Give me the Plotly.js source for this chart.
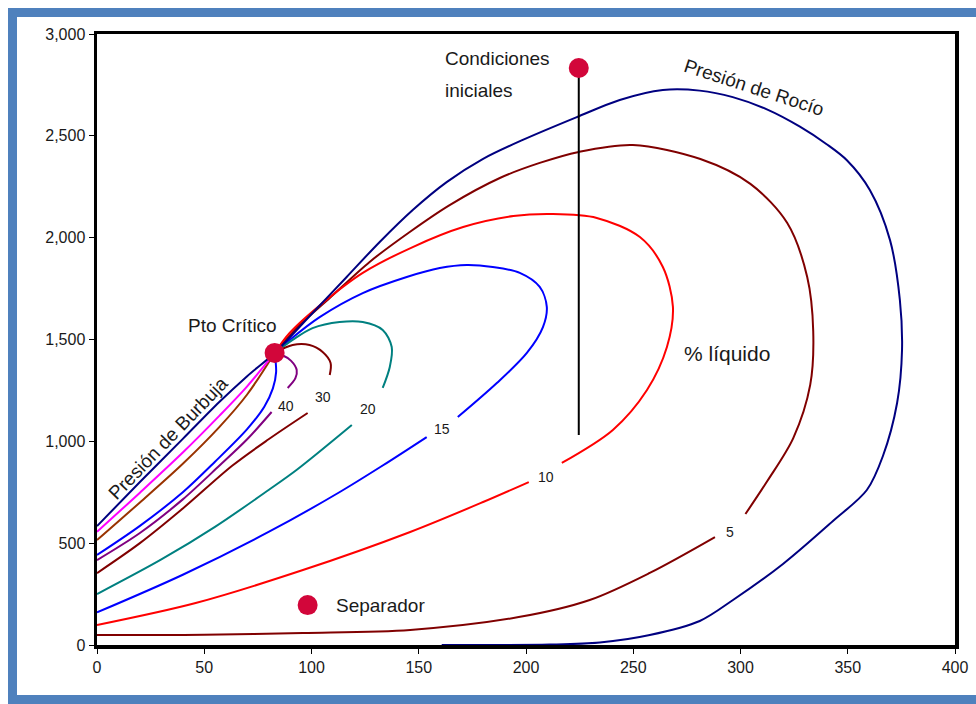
<!DOCTYPE html>
<html>
<head>
<meta charset="utf-8">
<script src="https://cdn.plot.ly/plotly-3.0.1.min.js"></script>
<style>
  html, body { margin: 0; padding: 0; background: #ffffff; }
  #chart { width: 976px; height: 704px; }
</style>
</head>
<body>
<div id="chart"></div>
<script>
// ---------------- DATA ----------------
// Envolvente: Presión de Burbuja + Presión de Rocío (T, P)
const envX = [0, 20, 40, 57, 70, 82.8, 100.5, 116.4, 131.8, 147.2, 163.0, 179.8, 198.5, 223.7, 243.7, 263.8, 281.0, 296.4, 312.3, 327.7, 340.0, 349.6, 360.3, 369.7, 374.3, 375.3, 373.0, 366.4, 358.9, 343.1, 319.8, 296.5, 281.0, 257.7, 234.4, 211.0, 160.7];
const envY = [584, 800, 1012, 1193, 1320, 1434, 1630, 1807, 1979, 2136, 2273, 2386, 2480, 2592, 2676, 2725, 2722, 2690, 2630, 2545, 2460, 2380, 2234, 1988, 1694, 1448, 1188, 928, 761, 609, 398, 221, 118, 49, 12, 2, 0];

// Líneas de calidad cercanas a la burbuja
const magX = [0, 20, 40, 57, 70, 82.8];
const magY = [556, 748, 945, 1125, 1270, 1434];
const sieX = [0, 20, 40, 57, 70, 82.8];
const sieY = [515, 700, 890, 1070, 1230, 1434];
const b50X = [0, 20, 40, 55, 70, 78, 82, 83.5, 82.8];
const b50Y = [442, 585, 750, 900, 1060, 1170, 1260, 1340, 1434];

// 40 %
const q40LoX = [0, 20, 40, 57, 70, 81.4];
const q40LoY = [417, 550, 715, 880, 1010, 1144];
const q40UpX = [88.9, 92.5, 93.1, 90.5, 86, 82.8];
const q40UpY = [1262, 1310, 1350, 1395, 1425, 1434];
// 30 %
const q30LoX = [0, 20, 40, 63, 80, 98.2];
const q30LoY = [353, 500, 670, 880, 1010, 1139];
const q30UpX = [108.5, 108.9, 105.2, 99.1, 91.2, 82.8];
const q30UpY = [1326, 1385, 1439, 1473, 1473, 1434];
// 20 %
const q20LoX = [0, 30, 55, 80, 93, 118.8];
const q20LoY = [250, 420, 580, 761, 859, 1080];
const q20UpX = [133.2, 136.5, 137.4, 133.2, 123.9, 113.1, 100.5, 91.2, 82.8];
const q20UpY = [1262, 1365, 1463, 1547, 1586, 1586, 1556, 1498, 1434];
// 15 %
const q15LoX = [0, 40, 80, 113, 133, 153.7];
const q15LoY = [160, 345, 555, 750, 880, 1021];
const q15UpX = [168.2, 186.4, 200.4, 207.9, 209.7, 206.4, 197.1, 184.5, 172.4, 159.8, 144.4, 123.9, 103.8, 89.8, 82.8];
const q15UpY = [1119, 1286, 1434, 1561, 1660, 1758, 1827, 1856, 1866, 1851, 1807, 1728, 1610, 1498, 1434];
// 10 %
const q10LoX = [0, 46, 96, 146, 180, 201.3];
const q10LoY = [98, 206, 368, 555, 702, 800];
const q10UpX = [216.7, 240.5, 256.4, 265.7, 268.5, 263.8, 253.1, 233.0, 212.5, 194.1, 170.7, 147.2, 123.9, 105.2, 89.8, 82.8];
const q10UpY = [894, 1056, 1252, 1463, 1660, 1856, 2003, 2097, 2116, 2106, 2052, 1954, 1827, 1679, 1532, 1434];
// 5 %
const q5LoX = [0, 50, 96, 146, 196.6, 229.7, 257.7, 288.1];
const q5LoY = [49, 50, 59, 74, 137, 221, 354, 530];
const q5UpX = [302.3, 312.5, 324.6, 332.5, 333.9, 331.1, 321.8, 304.6, 281.3, 249.8, 224.6, 206.4, 187.8, 164.4, 145.8, 127.1, 108.5, 94.5, 82.8];
const q5UpY = [643, 805, 1016, 1277, 1542, 1807, 2072, 2264, 2386, 2455, 2421, 2367, 2293, 2160, 2028, 1881, 1704, 1571, 1434];

// Trayectoria de agotamiento y puntos
const pathX = [224.6, 224.6];
const pathY = [2833, 1031];
const initX = [224.6], initY = [2833];
const sepX = [98.2], sepY = [196];
const critX = [82.8], critY = [1434];

// Etiquetas de calidad
const qLabels = ['40', '30', '20', '15', '10', '5'];
const qLabelX = [88.1, 105.2, 126.2, 160.7, 209.2, 295.0];
const qLabelY = [1173, 1218, 1159, 1061, 825, 555];

const xTicks = [0, 50, 100, 150, 200, 250, 300, 350, 400];
const yTicks = [0, 500, 1000, 1500, 2000, 2500, 3000];

// ---------------- CHART ----------------
const W = 976, H = 704, ML = 97, MR = 21, MT = 34, MB = 59;
const pw = W - ML - MR, ph = H - MT - MB;
const pxX = p => (p - ML) / pw;
const pxY = q => (H - MB - q) / ph;

const FONT = 'Liberation Sans, Arial, sans-serif';
const TXT = '#1a1a1a';

function line(x, y, color, w) {
  return { x: x, y: y, type: 'scatter', mode: 'lines', hoverinfo: 'skip',
           line: { color: color, width: w || 2, shape: 'spline', smoothing: 0.9 } };
}
function dot(x, y) {
  return { x: x, y: y, type: 'scatter', mode: 'markers', hoverinfo: 'skip', cliponaxis: false,
           marker: { color: '#D2063A', size: 20, line: { width: 0 } } };
}

const traces = [
  line(q5LoX, q5LoY, '#800000'), line(q5UpX, q5UpY, '#800000'),
  line(q10LoX, q10LoY, '#FF0000'), line(q10UpX, q10UpY, '#FF0000'),
  line(q15LoX, q15LoY, '#0000FF'), line(q15UpX, q15UpY, '#0000FF'),
  line(q20LoX, q20LoY, '#008080'), line(q20UpX, q20UpY, '#008080'),
  line(q30LoX, q30LoY, '#800000'), line(q30UpX, q30UpY, '#800000'),
  line(q40LoX, q40LoY, '#800080'), line(q40UpX, q40UpY, '#800080'),
  line(b50X, b50Y, '#0000FF'),
  line(sieX, sieY, '#993300'),
  line(magX, magY, '#FF00FF'),
  line(envX, envY, '#000080'),
  { x: pathX, y: pathY, type: 'scatter', mode: 'lines', hoverinfo: 'skip',
    line: { color: '#000000', width: 2 } },
  dot(initX, initY), dot(sepX, sepY), dot(critX, critY)
];

const annotations = [
  { x: 161.2, y: 2882, text: 'Condiciones', xanchor: 'left', yanchor: 'middle', showarrow: false,
    font: { family: FONT, size: 19, color: TXT } },
  { x: 161.2, y: 2725, text: 'iniciales', xanchor: 'left', yanchor: 'middle', showarrow: false,
    font: { family: FONT, size: 19, color: TXT } },
  { x: 63.2, y: 1571, text: 'Pto Crítico', showarrow: false,
    font: { family: FONT, size: 19, color: TXT } },
  { x: 110.5, y: 196, text: 'Separador', xanchor: 'left', yanchor: 'middle', showarrow: false,
    font: { family: FONT, size: 19, color: TXT } },
  { x: 293.7, y: 1429, text: '% líquido', showarrow: false,
    font: { family: FONT, size: 21, color: TXT } },
  { x: 32.9, y: 1016, text: 'Presión de Burbuja', textangle: -46, showarrow: false,
    font: { family: FONT, size: 19, color: TXT } },
  { x: 306.3, y: 2735, text: 'Presión de Rocío', textangle: 18, showarrow: false,
    font: { family: FONT, size: 19, color: TXT } }
];
qLabels.forEach((t, i) => annotations.push({
  x: qLabelX[i], y: qLabelY[i], text: t, showarrow: false,
  font: { family: FONT, size: 14, color: TXT }
}));

const BORDER = '#4F81BD';
const shapes = [
  { type: 'rect', xref: 'paper', yref: 'paper', layer: 'above',
    x0: pxX(8), x1: pxX(17), y0: pxY(704), y1: pxY(8), fillcolor: BORDER, line: { width: 0 } },
  { type: 'rect', xref: 'paper', yref: 'paper', layer: 'above',
    x0: pxX(8), x1: pxX(976), y0: pxY(17), y1: pxY(8), fillcolor: BORDER, line: { width: 0 } },
  { type: 'rect', xref: 'paper', yref: 'paper', layer: 'above',
    x0: pxX(8), x1: pxX(976), y0: pxY(704), y1: pxY(695), fillcolor: BORDER, line: { width: 0 } }
];

const layout = {
  width: W, height: H,
  margin: { l: ML, r: MR, t: MT, b: MB, pad: 0 },
  paper_bgcolor: '#ffffff', plot_bgcolor: '#ffffff',
  showlegend: false,
  hovermode: false,
  font: { family: FONT, color: TXT },
  xaxis: {
    range: [0, 400], tickvals: xTicks, ticktext: xTicks.map(String),
    showgrid: false, zeroline: false,
    showline: true, linecolor: '#000000', linewidth: 3.5, mirror: true,
    ticks: 'outside', ticklen: 5, tickwidth: 1, tickcolor: '#000000',
    tickfont: { family: FONT, size: 16, color: TXT },
    layer: 'below traces', fixedrange: true
  },
  yaxis: {
    range: [0, 3000], tickvals: yTicks, tickformat: ',d',
    showgrid: false, zeroline: false,
    showline: true, linecolor: '#000000', linewidth: 3.5, mirror: true,
    ticks: 'outside', ticklen: 5, tickwidth: 1, tickcolor: '#000000',
    tickfont: { family: FONT, size: 16, color: TXT },
    layer: 'below traces', fixedrange: true
  },
  annotations: annotations,
  shapes: shapes
};

Plotly.newPlot('chart', traces, layout, { displayModeBar: false, staticPlot: true });
</script>
</body>
</html>
